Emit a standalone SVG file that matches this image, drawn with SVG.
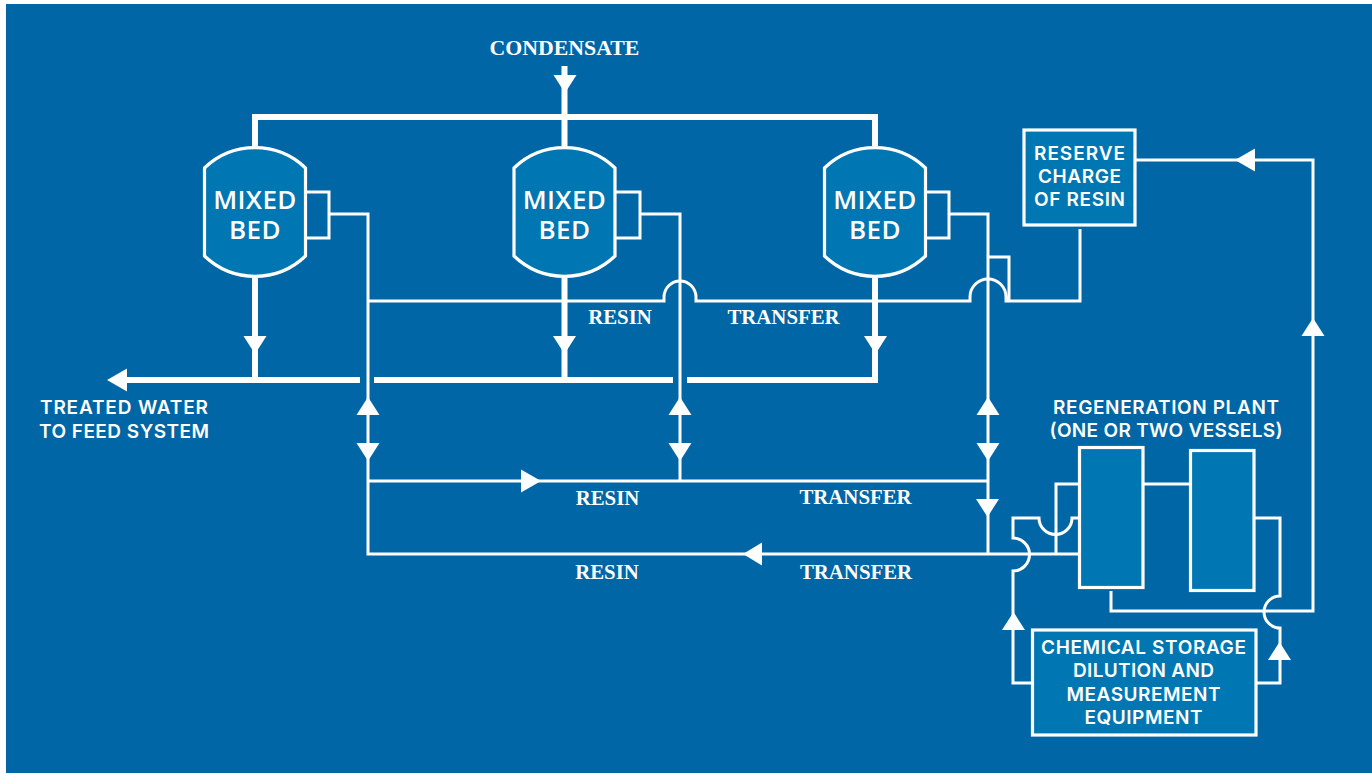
<svg xmlns="http://www.w3.org/2000/svg" width="1372" height="773" viewBox="0 0 1372 773">
<style>
.bg{fill:#0066a6}
.n{fill:#0077b3;stroke:#fff;stroke-width:3.200}
.t{fill:none;stroke:#fff;stroke-width:6}
.l{fill:none;stroke:#fff;stroke-width:3}
.a{fill:#fff}
text{fill:#fff;text-anchor:middle}
.big{font:600 26px "Open Sans",sans-serif;letter-spacing:.4px}
.sm{font:600 19px Inter,sans-serif}
.sf{font:bold 20.800px "Liberation Serif",serif}
</style>
<defs>
<path id="v" d="M-50.500 22A73 73 0 0 1 50.500 22V110A73 73 0 0 1 -50.500 110Z"/>
<path id="d" d="M-11.500 0H11.500L0 18Z"/>
<path id="u" d="M-11.500 18H11.500L0 0Z"/>
</defs>
<rect width="1372" height="773" fill="#fff"/>
<rect class="bg" x="6" y="4" width="1366" height="769"/>
<g id="connectors">
<path class="t" d="M255 146V117H875V146M564.500 66V146M255 278V380M564.500 278V380M875 278V380M125 380H360M374 380H673M687 380H878"/>
<path class="l" d="M307 192H329V238H307M329 214H368V554H1080M616 192H640V238H616M640 214H680V481M927 192H949V238H927M949 214H988V554"/>
<path class="l" d="M368 301H664V297A16 16 0 0 1 696 297V301H970V297A18 18 0 0 1 1006 297V301H1080V229M988 257H1009V301"/>
<path class="l" d="M368 481H988M1056 554V484H1080M1143 484H1190"/>
<path class="l" d="M1032 683H1013V571A16.500 16.500 0 0 0 1013 538V518H1039A16.500 16.500 0 0 0 1072 518H1080"/>
<path class="l" d="M1256 683H1280V628A16 16 0 0 1 1280 596V518H1254M1111 591V611H1313V160H1135"/>
<g class="a">
<use href="#d" x="565" y="75"/><use href="#d" x="255" y="336"/><use href="#d" x="564.500" y="336"/><use href="#d" x="875.500" y="336"/>
<use href="#u" x="368" y="397"/><use href="#d" x="368" y="443"/>
<use href="#u" x="680" y="397"/><use href="#d" x="680" y="443"/>
<use href="#u" x="988" y="397"/><use href="#d" x="988" y="443"/><use href="#d" x="987.500" y="499"/>
<use href="#u" x="1013.500" y="612"/><use href="#u" x="1279.500" y="642"/><use href="#u" x="1313" y="318"/>
<path d="M107 380L127 368.500V391.500Z"/>
<path d="M541 481L521 469.500V492.500Z"/>
<path d="M743 554L762 542.500V565.500Z"/>
<path d="M1235 160L1255 148.500V171.500Z"/>
</g>
</g>
<g id="bed1"><use href="#v" class="n" x="255" y="146"/><text class="big"><tspan x="255" y="209">MIXED</tspan><tspan x="255" y="239">BED</tspan></text></g>
<g id="bed2"><use href="#v" class="n" x="564.500" y="146"/><text class="big"><tspan x="564.500" y="209">MIXED</tspan><tspan x="564.500" y="239">BED</tspan></text></g>
<g id="bed3"><use href="#v" class="n" x="875" y="146"/><text class="big"><tspan x="875" y="209">MIXED</tspan><tspan x="875" y="239">BED</tspan></text></g>
<g id="reserve"><rect class="n" x="1024" y="130" width="111" height="95"/><text class="sm" x="1079.500" y="160" textLength="91">RESERVE</text><text class="sm" x="1079.500" y="183" textLength="83">CHARGE</text><text class="sm" x="1079.500" y="206" textLength="91">OF RESIN</text></g>
<g id="vessel1"><rect class="n" x="1079.500" y="447.500" width="63.500" height="140"/></g>
<g id="vessel2"><rect class="n" x="1190.500" y="450.500" width="63.500" height="140"/></g>
<g id="chemical"><rect class="n" x="1032.500" y="630" width="223.500" height="105"/><text class="sm" x="1143.500" y="654" textLength="205">CHEMICAL STORAGE</text><text class="sm" x="1143.500" y="677" textLength="141">DILUTION AND</text><text class="sm" x="1143.500" y="701" textLength="154">MEASUREMENT</text><text class="sm" x="1143.500" y="724" textLength="118">EQUIPMENT</text></g>
<g id="labels">
<text class="sf" x="564.500" y="55" style="font-size:21.800px">CONDENSATE</text>
<text class="sm" x="124" y="414" textLength="168">TREATED WATER</text>
<text class="sm" x="124" y="438" textLength="170">TO FEED SYSTEM</text>
<text class="sm" x="1166" y="414" textLength="226">REGENERATION PLANT</text>
<text class="sm" x="1166" y="437" textLength="233">(ONE OR TWO VESSELS)</text>
<text class="sf" x="620" y="324">RESIN</text>
<text class="sf" x="783.500" y="324">TRANSFER</text>
<text class="sf" x="607.500" y="505">RESIN</text>
<text class="sf" x="855.500" y="504">TRANSFER</text>
<text class="sf" x="607" y="579">RESIN</text>
<text class="sf" x="856" y="579">TRANSFER</text>
</g>
</svg>
